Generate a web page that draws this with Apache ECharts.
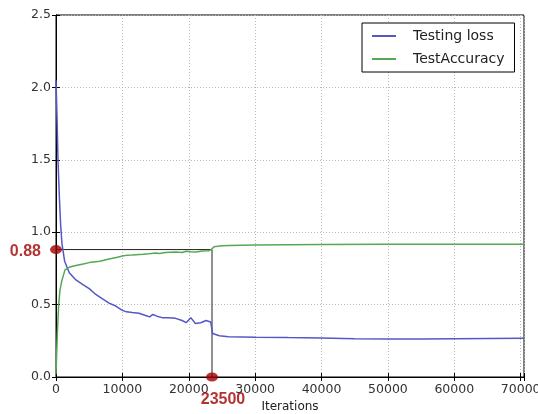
<!DOCTYPE html>
<html>
<head>
<meta charset="utf-8">
<script src="https://cdn.jsdelivr.net/npm/echarts@6/dist/echarts.min.js"></script>
<style>
html,body{margin:0;padding:0;background:#fff;}
#chart{width:538px;height:414px;}
</style>
</head>
<body>
<div id="chart"></div>
<script>
var lossIter = [0,150,300,500,700,900,1300,2000,3000,4000,5000,6000,7000,8000,9000,10000,10600,11500,12500,13500,14100,14600,15200,16000,17000,18000,19000,19600,20300,21000,21800,22600,23300,23600,24600,26000,30000,35000,40000,45000,50000,55000,60000,65000,70500];
var lossVal = [2.05,1.8,1.5,1.25,1.05,0.92,0.8,0.72,0.67,0.64,0.61,0.57,0.54,0.51,0.49,0.46,0.45,0.445,0.44,0.425,0.415,0.432,0.42,0.41,0.41,0.405,0.39,0.375,0.41,0.37,0.375,0.39,0.38,0.30,0.285,0.278,0.275,0.272,0.27,0.265,0.262,0.262,0.265,0.266,0.267];
var accIter = [0,200,400,600,850,1350,2100,3000,4100,5000,6600,8000,9100,10000,10600,11500,13100,14000,15000,15600,16500,17200,18100,19000,19600,20300,21100,22000,23000,23400,23800,25000,26100,30000,40000,50000,60000,70500];
var accVal = [0.02,0.3,0.5,0.6,0.66,0.74,0.76,0.77,0.78,0.79,0.80,0.815,0.826,0.835,0.84,0.842,0.848,0.852,0.857,0.853,0.86,0.862,0.864,0.86,0.869,0.865,0.864,0.87,0.872,0.88,0.9,0.906,0.908,0.912,0.915,0.917,0.917,0.917];
var seriesNames = ['Testing loss', 'TestAccuracy'];
var markIter = 23500;
var markAcc = 0.88;
var xTicks = [0,10000,20000,30000,40000,50000,60000,70000];
var yTicks = [0.0,0.5,1.0,1.5,2.0,2.5];

function zip(a, b) { return a.map(function (v, i) { return [v, b[i]]; }); }

var chart = echarts.init(document.getElementById('chart'));
var font = 'DejaVu Sans';
var red = '#a00000';
var gridLine = { show: true, lineStyle: { color: '#b8b8b8', type: [1, 2], width: 1 } };
var tickIn = { show: true, inside: true, length: 4, lineStyle: { color: '#000' } };

chart.setOption({
  animation: false,
  backgroundColor: '#fff',
  grid: { left: 56, top: 15, width: 468, height: 362, show: true, borderColor: '#000', borderWidth: 1, backgroundColor: 'transparent', containLabel: false, outerBoundsMode: 'none' },
  legend: {
    data: seriesNames,
    orient: 'vertical',
    left: 362, top: 23,
    width: 147,
    backgroundColor: '#fff',
    borderColor: '#000',
    borderWidth: 1,
    padding: [6, 10, 6, 10],
    itemGap: 9,
    itemWidth: 24, itemHeight: 2,
    icon: 'rect',
    textStyle: { fontFamily: font, fontSize: 14, color: '#222', padding: [0, 0, 0, 12] }
  },
  xAxis: [{
    type: 'value', min: 0, max: 70500, interval: 10000,
    name: 'Iterations', nameLocation: 'middle', nameGap: 22,
    nameTextStyle: { fontFamily: font, fontSize: 12, color: '#222' },
    axisLine: { show: true, lineStyle: { color: '#000' } },
    axisTick: tickIn,
    axisLabel: { fontFamily: font, fontSize: 12.5, color: '#333', margin: 6,
      formatter: function (v) { return xTicks.indexOf(v) >= 0 ? String(v) : ''; } },
    splitLine: gridLine
  }, {
    type: 'value', min: 0, max: 70500, interval: 10000, position: 'top',
    axisLine: { show: true, lineStyle: { color: '#000' } },
    axisTick: tickIn, axisLabel: { show: false }, splitLine: { show: false }
  }],
  yAxis: [{
    type: 'value', min: 0, max: 2.5, interval: 0.5,
    axisLine: { show: true, lineStyle: { color: '#000' } },
    axisTick: tickIn,
    axisLabel: { fontFamily: font, fontSize: 12.5, color: '#333', margin: 5,
      formatter: function (v) { return yTicks.indexOf(v) >= 0 ? v.toFixed(1) : ''; } },
    splitLine: gridLine
  }, {
    type: 'value', min: 0, max: 2.5, interval: 0.5, position: 'right',
    axisLine: { show: true, lineStyle: { color: '#000' } },
    axisTick: tickIn, axisLabel: { show: false }, splitLine: { show: false }
  }],
  series: [{
    name: seriesNames[0], type: 'line', data: zip(lossIter, lossVal),
    showSymbol: false, symbol: 'none',
    lineStyle: { color: '#5656c8', width: 1.5 }, itemStyle: { color: '#5656c8' }, z: 3
  }, {
    name: seriesNames[1], type: 'line', data: zip(accIter, accVal),
    showSymbol: false, symbol: 'none',
    lineStyle: { color: '#55a855', width: 1.5 }, itemStyle: { color: '#55a855' }, z: 3
  }, {
    name: 'guide', type: 'line',
    data: [[0, markAcc], [markIter, markAcc], [markIter, 0]],
    symbol: 'none', lineStyle: { color: '#222', width: 1 }, z: 2, silent: true
  }, {
    name: 'marks', type: 'scatter', clip: false, symbolSize: [12, 9],
    itemStyle: { color: red },
    data: [
      { value: [0, markAcc], label: { show: true, position: 'left', distance: 9, offset: [0, 2], formatter: String(markAcc) } },
      { value: [markIter, 0], label: { show: true, position: 'bottom', distance: 8, offset: [11, 2], formatter: String(markIter) } }
    ],
    label: { fontFamily: 'Liberation Sans', fontSize: 16, fontWeight: 'bold', color: red },
    z: 5, silent: true
  }]
});
</script>
</body>
</html>
